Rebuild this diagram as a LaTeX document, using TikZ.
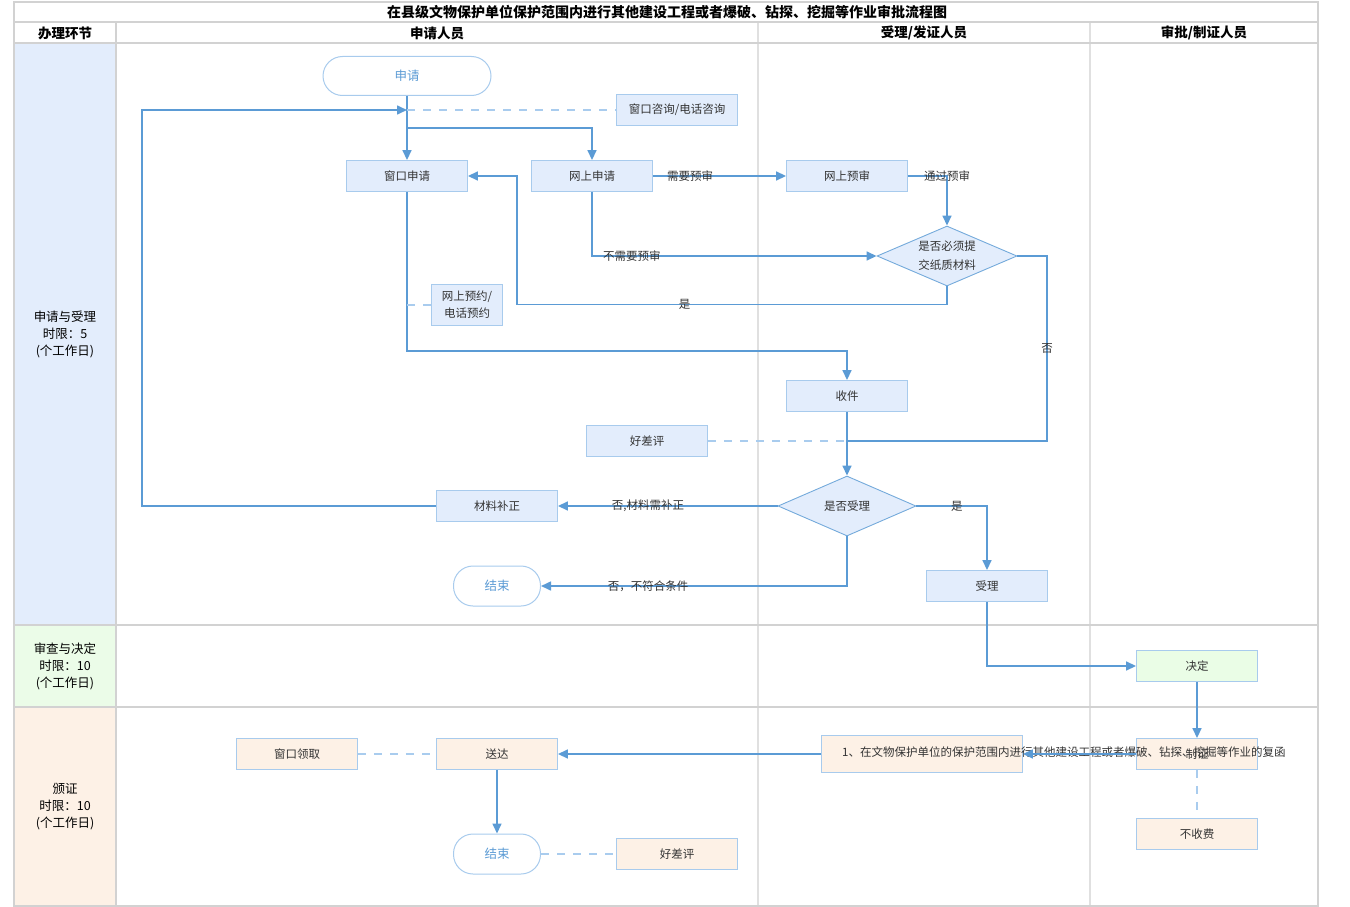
\documentclass[tikz,border=0pt]{standalone}
\usepackage{fontspec}
\setmainfont{Noto Sans CJK SC}
\usetikzlibrary{shapes.geometric,arrows.meta}
\definecolor{gridc}{HTML}{D2D2D2}
\definecolor{gridl}{HTML}{E0E0E0}
\definecolor{lnc}{HTML}{5B9BD5}
\definecolor{dsh}{HTML}{A9CCEE}
\definecolor{bxl}{HTML}{A8CBED}
\definecolor{bxblue}{HTML}{E3EDFC}
\definecolor{bxgreen}{HTML}{EAFDE6}
\definecolor{bxpeach}{HTML}{FDF1E6}
\definecolor{laneA}{HTML}{E3EDFC}
\definecolor{laneB}{HTML}{EBFCE8}
\definecolor{laneC}{HTML}{FDF1E6}
\definecolor{txt}{HTML}{333333}
\definecolor{bluetxt}{HTML}{5B9BD5}
\begin{document}
\begin{tikzpicture}[x=1pt,y=-1pt,
  font=\fontsize{11.5}{14}\selectfont,
  box/.style={draw=bxl, line width=0.9pt, minimum width=121pt, minimum height=31pt, inner sep=0pt, fill=bxblue, text=txt},
  pbox/.style={box, fill=bxpeach},
  gbox/.style={box, fill=bxgreen},
  term/.style={draw=bxl, line width=1pt, fill=white, rounded corners=19.5pt, minimum width=87pt, minimum height=40pt, inner sep=0pt, text=bluetxt, font=\fontsize{12.5}{14}\selectfont},
  dec/.style={diamond, draw=lnc!85, fill=bxblue, line width=0.9pt, aspect=2.33, minimum width=140pt, minimum height=60pt, inner sep=0pt, align=center, text=txt},
  flow/.style={draw=lnc, line width=1.6pt, -{Triangle[length=10pt,width=9pt]}},
  link/.style={draw=lnc, line width=1.6pt},
  dline/.style={draw=dsh, line width=1.5pt, dash pattern=on 8pt off 8pt},
  lbl/.style={font=\fontsize{11.5}{14}\selectfont, text=txt, inner sep=0pt},
  hdr/.style={font=\fontsize{13.5}{15}\selectfont\bfseries, text=black, inner sep=0pt},
  lane/.style={font=\fontsize{12.5}{17}\selectfont, text=black, align=center, inner sep=0pt},
]
\useasboundingbox (0,0) rectangle (1350,907);
% lane fills
\fill[laneA] (14,43) rectangle (116,625);
\fill[laneB] (14,625) rectangle (116,707);
\fill[laneC] (14,707) rectangle (116,906);
% grid
\draw[gridl, line width=1.5pt] (758,22) -- (758,906);
\draw[gridl, line width=1.5pt] (1090,22) -- (1090,906);
\draw[gridc, line width=1.5pt] (116,22) -- (116,906);
\draw[gridc, line width=1.5pt] (14,22) -- (1318,22);
\draw[gridc, line width=1.5pt] (14,43) -- (1318,43);
\draw[gridc, line width=1.8pt] (14,625) -- (1318,625);
\draw[gridc, line width=1.8pt] (14,707) -- (1318,707);
\draw[gridc, line width=2pt] (14,2) rectangle (1318,906);
% headers
\node[hdr, font=\fontsize{14}{16}\selectfont\bfseries] (title) at (667,12) {在县级文物保护单位保护范围内进行其他建设工程或者爆破、钻探、挖掘等作业审批流程图};
\node[hdr] (h0) at (65,33) {办理环节};
\node[hdr] (h1) at (437,33) {申请人员};
\node[hdr] (h2) at (924,33) {受理/发证人员};
\node[hdr] (h3) at (1204,33) {审批/制证人员};
\node[lane] (l1) at (65,334) {申请与受理\\时限：5\\(个工作日)};
\node[lane] (l2) at (65,666) {审查与决定\\时限：10\\(个工作日)};
\node[lane] (l3) at (65,807) {颁证\\时限：10\\(个工作日)};
% nodes
\node[term, minimum width=168pt, minimum height=39pt] (apply) at (407,76) {申请};
\node[box] (consult) at (677,110) {窗口咨询/电话咨询};
\node[box] (win) at (407,176) {窗口申请};
\node[box] (online) at (592,176) {网上申请};
\node[box] (pre) at (847,176) {网上预审};
\node[dec, font=\fontsize{11.5}{19}\selectfont] (paper) at (947,256) {是否必须提\\交纸质材料};
\node[box, minimum width=71pt, minimum height=41pt, align=center, font=\fontsize{11.5}{17}\selectfont] (book) at (467,305) {网上预约/\\电话预约};
\node[box] (recv) at (847,396) {收件};
\node[box] (eval1) at (647,441) {好差评};
\node[dec, minimum width=138pt] (acc) at (847,506) {是否受理};
\node[box] (fix) at (497,506) {材料补正};
\node[term] (end1) at (497,586) {结束};
\node[box] (accept) at (987,586) {受理};
\node[gbox] (decide) at (1197,666) {决定};
\node[pbox, minimum width=201pt, minimum height=37pt] (reply) at (922,754) {};
\node[pbox] (cert) at (1197,754) {制证};
\node[lbl, anchor=west] (replytxt) at (842,752) {1、在文物保护单位的保护范围内进行其他建设工程或者爆破、钻探、挖掘等作业的复函};
\node[pbox] (deliver) at (497,754) {送达};
\node[pbox] (pickup) at (297,754) {窗口领取};
\node[term] (end2) at (497,854) {结束};
\node[pbox] (eval2) at (677,854) {好差评};
\node[pbox] (nofee) at (1197,834) {不收费};
% junctions
\coordinate (j0) at (407,110);
\coordinate (j1) at (407,128);
\coordinate (j2) at (407,305);
\coordinate (j3) at (847,441);
% connectors
\draw[flow] (apply.south) -- (win.north);
\draw[flow] (j1) -| (online.north);
\draw[flow] (fix.west) -- ++(-294,0) |- (j0);
\draw[dline] (j0) -- (consult.west);
\draw[flow] (online.east) -- node[lbl, pos=0.28]{需要预审} (pre.west);
\draw[flow] (pre.east) -| node[lbl, pos=0.5]{通过预审} (paper.north);
\draw[flow] (online.south) |- node[lbl, pos=0.57]{不需要预审} (paper.west);
\draw[flow] (paper.south) -- ++(0,18) -- node[lbl, pos=0.61]{是} ++(-430,0) |- (win.east);
\draw[flow] (win.south) -- ++(0,159) -| (recv.north);
\draw[dline] (j2) -- (book.west);
\draw[link] (paper.east) -| node[lbl, pos=0.75]{否} (1047,441) -- (j3);
\draw[dline] (eval1.east) -- (j3);
\draw[flow] (recv.south) -- (acc.north);
\draw[flow] (acc.west) -- node[lbl, pos=0.59]{否,材料需补正} (fix.east);
\draw[flow] (acc.south) |- node[lbl, pos=0.825]{否，不符合条件} (end1.east);
\draw[flow] (acc.east) -| node[lbl, pos=0.286]{是} (accept.north);
\draw[flow] (accept.south) |- (decide.west);
\draw[flow] (decide.south) -- (cert.north);
\draw[flow] (cert.west) -- (reply.east);
\draw[flow] (reply.west) -- (deliver.east);
\draw[dline] (pickup.east) -- (deliver.west);
\draw[flow] (deliver.south) -- (end2.north);
\draw[dline] (end2.east) -- (eval2.west);
\draw[dline] (cert.south) -- (nofee.north);
\end{tikzpicture}
\end{document}
